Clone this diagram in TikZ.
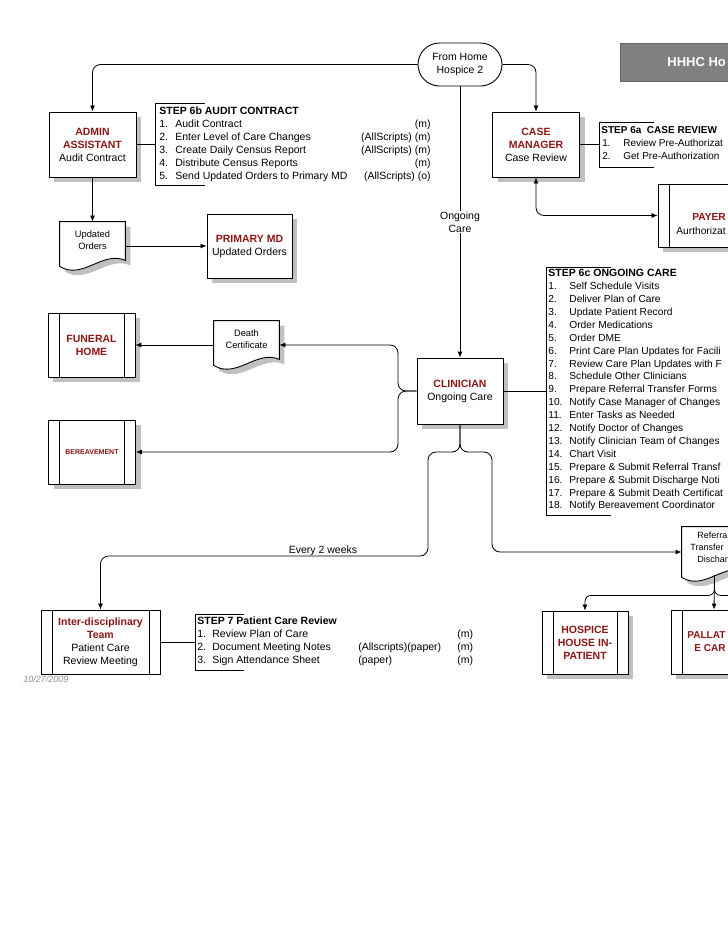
\documentclass[tikz,border=0pt]{standalone}
\usepackage{fontspec}
\setmainfont{Liberation Sans}
\usepackage{tikz}
\usetikzlibrary{arrows.meta,positioning,calc,shapes.misc,shadows,backgrounds}

\definecolor{hdred}{RGB}{140,22,22}
\definecolor{shadowgray}{RGB}{192,192,192}
\definecolor{titlegray}{RGB}{128,128,128}

\newcommand{\hd}[1]{{\bfseries\color{hdred}#1}}
% document symbol with wavy bottom, drawn round a node
\newcommand{\docshape}[1]{%
  \draw[boxshadow, fill=white, line width=0.9pt] (#1.north west) -- (#1.north east)
    -- ($(#1.south east)+(0,2)$)
    .. controls ($(#1.south west)!0.65!(#1.south east)+(0,-8)$) and ($(#1.south west)!0.35!(#1.south east)+(0,22)$) .. ($(#1.south west)+(0,8)$)
    -- cycle;}

\tikzset{
  boxshadow/.style={drop shadow={shadow xshift=5pt, shadow yshift=-5pt, fill=shadowgray, opacity=1}},
  boxframe/.style={draw, fill=white, line width=0.9pt, minimum width=87pt, minimum height=65pt,
    inner sep=1pt, align=center, font=\fontsize{10.5}{13}\selectfont},
  block/.style={boxframe, boxshadow},
  sidebars/.style={path picture={
    \draw[line width=0.9pt] ([xshift=11pt]path picture bounding box.north west) -- ([xshift=11pt]path picture bounding box.south west)
      ([xshift=-11pt]path picture bounding box.north east) -- ([xshift=-11pt]path picture bounding box.south east);}},
  extbox/.style={block, sidebars},
  docbox/.style={minimum width=65pt, minimum height=36pt, inner sep=1pt, align=center, font=\fontsize{9.3}{12}\selectfont},
  terminal/.style={rounded rectangle, draw, fill=white, line width=0.9pt, minimum width=86pt, minimum height=43pt,
    inner sep=1pt, align=center, font=\fontsize{10.5}{13}\selectfont},
  lbl/.style={inner sep=1pt, align=center, font=\fontsize{10.5}{13}\selectfont},
  edgetext/.style={anchor=west, inner sep=0pt, text height=8pt, text depth=2.5pt},
  annot/.style={minimum width=48pt, inner sep=0pt, anchor=north west},
  steptext/.style={anchor=west, inner sep=0pt, text height=8pt, text depth=2.5pt, font=\fontsize{10.5}{13}\selectfont},
  steptitle/.style={steptext, font=\fontsize{10.5}{13}\selectfont\bfseries},
  titlebox/.style={draw=black!60, fill=titlegray, minimum width=200pt, minimum height=38pt, inner sep=0pt}
}

\begin{document}
\begin{tikzpicture}[x=1pt, y=-1pt, >={Latex[length=6pt,width=5pt]}, line width=0.8pt]
  \useasboundingbox (0,0) rectangle (728,943);
  \clip (0,0) rectangle (728,943);

  % titulo
  \node[titlebox, anchor=north west] (title) at (620,43) {};
  \node[anchor=west, inner sep=0pt, text=white, font=\fontsize{13}{16}\selectfont\bfseries] (titletxt) at (667,62) {HHHC Ho};

  % inicio
  \node[terminal] (home) at (460,64.5) {From Home\\Hospice 2};

  % caixas
  \node[block] (admin) at (92.5,144.5) {\hd{ADMIN}\\\hd{ASSISTANT}\\Audit Contract};
  \node[block] (cm) at (536,144.5) {\hd{CASE}\\\hd{MANAGER}\\Case Review};
  \node[extbox, minimum width=104pt, minimum height=63pt] (payer) at (710,215.5) {};
  \node[edgetext, font=\fontsize{10.2}{13}\selectfont] (payer-t1) at (692,218) {\hd{PAYER}};
  \node[edgetext, font=\fontsize{10.2}{13}\selectfont] (payer-t2) at (676,232) {Aurthorizat};
  \node[block, minimum width=85pt, minimum height=64pt] (pmd) at (249.5,246) {\hd{PRIMARY MD}\\Updated Orders};
  \node[extbox, minimum height=64pt] (fun) at (91.5,345) {\hd{FUNERAL}\\\hd{HOME}};
  \node[extbox, minimum height=64pt, font=\fontsize{7}{8}\selectfont] (ber) at (92,452) {\hd{BEREAVEMENT}};
  \node[block, minimum width=86pt, minimum height=66pt] (clin) at (460,391) {\hd{CLINICIAN}\\Ongoing Care};
  \node[boxframe, sidebars, minimum width=119pt, minimum height=64pt] (idt) at (100.5,642)
    {\hd{Inter-disciplinary}\\\hd{Team}\\Patient Care\\Review Meeting};
  \node[extbox, minimum width=86pt, minimum height=63pt] (hosp) at (585,642.5) {\hd{HOSPICE}\\\hd{HOUSE IN-}\\\hd{PATIENT}};
  \node[extbox, minimum width=86pt, minimum height=64pt] (pall) at (714,642) {};
  \node[edgetext, font=\fontsize{10}{13}\selectfont] (pall-t1) at (687,636) {\hd{PALLAT}};
  \node[edgetext, font=\fontsize{10}{13}\selectfont] (pall-t2) at (694,649) {\hd{E CAR}};

  % documentos
  \node[docbox] (uo) at (92.5,240) {Updated\\Orders};
  \node[docbox] (dc) at (246.5,339) {Death\\Certificate};
  \node[docbox, minimum height=42pt] (ref) at (714.5,548) {};
  \begin{scope}[on background layer]
    \docshape{uo}
    \docshape{dc}
    \docshape{ref}
  \end{scope}
  \node[edgetext, font=\fontsize{9}{12}\selectfont] (ref-t1) at (697,536) {Referra};
  \node[edgetext, font=\fontsize{9}{12}\selectfont] (ref-t2) at (690,548) {Transfer};
  \node[edgetext, font=\fontsize{9}{12}\selectfont] (ref-t3) at (697,560) {Dischar};

  % colchetes das etapas
  \node[annot, minimum width=49pt, minimum height=82pt] (s6b) at (155,103) {};
  \node[annot, minimum width=54pt, minimum height=45pt] (s6a) at (599,122) {};
  \node[annot, minimum width=64pt, minimum height=248pt] (s6c) at (546,267) {};
  \node[annot, minimum width=48pt, minimum height=56pt] (s7) at (195,614) {};
  \foreach \s in {s6b,s6a,s6c,s7}
    \draw[line width=0.9pt] (\s.north east) -- (\s.north west) -- (\s.south west) -- (\s.south east);

  % etapa 6b
  \node[steptitle] (s6b-title) at (159,112) {STEP 6b AUDIT CONTRACT};
  \foreach \n/\txt/\sys in {1/Audit Contract/{(m)}, 2/Enter Level of Care Changes/{(AllScripts) (m)},
      3/Create Daily Census Report/{(AllScripts) (m)}, 4/Distribute Census Reports/{(m)},
      5/Send Updated Orders to Primary MD/{(AllScripts) (o)}} {
    \node[steptext] (s6b-n\n) at (159,112+13*\n) {\n.};
    \node[steptext] (s6b-t\n) at (175,112+13*\n) {\txt};
    \node[steptext, anchor=east] (s6b-s\n) at (431,112+13*\n) {\sys};
  }

  % etapa 6a
  \node[steptitle, font=\fontsize{10}{13}\selectfont\bfseries] (s6a-title) at (601,131) {STEP 6a\ \ CASE REVIEW};
  \foreach \n/\txt in {1/Review Pre-Authorizat, 2/Get Pre-Authorization} {
    \node[steptext, font=\fontsize{10}{13}\selectfont] (s6a-n\n) at (602,131+13*\n) {\n.};
    \node[steptext, font=\fontsize{10}{13}\selectfont] (s6a-t\n) at (623,131+13*\n) {\txt};
  }

  % etapa 6c
  \node[steptitle] (s6c-title) at (548,274) {STEP 6c ONGOING CARE};
  \foreach \n/\txt in {1/Self Schedule Visits, 2/Deliver Plan of Care, 3/Update Patient Record,
      4/Order Medications, 5/Order DME, 6/Print Care Plan Updates for Facili,
      7/Review Care Plan Updates with F, 8/Schedule Other Clinicians,
      9/Prepare Referral Transfer Forms, 10/Notify Case Manager of Changes,
      11/Enter Tasks as Needed, 12/Notify Doctor of Changes, 13/Notify Clinician Team of Changes,
      14/Chart Visit, 15/Prepare \& Submit Referral Transf,
      16/Prepare \& Submit Discharge Noti, 17/Prepare \& Submit Death Certificat,
      18/Notify Bereavement Coordinator} {
    \node[steptext, font=\fontsize{10.2}{13}\selectfont] (s6c-n\n) at (548,274+12.9*\n) {\n.};
    \node[steptext, font=\fontsize{10.2}{13}\selectfont] (s6c-t\n) at (569,274+12.9*\n) {\txt};
  }

  % etapa 7
  \node[steptitle] (s7-title) at (197,622) {STEP 7 Patient Care Review};
  \foreach \n/\txt/\sys in {1/Review Plan of Care/{}, 2/Document Meeting Notes/{(Allscripts)(paper)},
      3/Sign Attendance Sheet/{(paper)}} {
    \node[steptext] (s7-n\n) at (197,622+13*\n) {\n.};
    \node[steptext] (s7-t\n) at (212,622+13*\n) {\txt};
    \node[steptext] (s7-s\n) at (358,622+13*\n) {\sys};
    \node[steptext] (s7-m\n) at (457,622+13*\n) {(m)};
  }

  % data
  \node[anchor=west, inner sep=0pt, text=black!45, font=\fontsize{9}{11}\selectfont\itshape] (date) at (23,679) {10/27/2009};

  % ligacoes
  \draw[->, rounded corners=8pt] (home.west) -| (admin.north);
  \draw[->, rounded corners=8pt] (home.east) -| (cm.north);
  \draw[->] (home.south) -- node[lbl, fill=white] (ongoing) {Ongoing\\Care} (clin.north);
  \draw[<->, rounded corners=8pt] (cm.south) |- (payer.west);
  \draw (admin.east) -- (admin.east -| s6b.west);
  \draw (cm.east) -- (cm.east -| s6a.west);
  \draw (clin.east) -- (clin.east -| s6c.west);
  \draw (idt.east) -- (idt.east -| s7.west);
  \draw[->] (admin.south) -- (uo.north);
  \draw[->] (uo.east |- pmd.west) -- (pmd.west);
  \draw[->, rounded corners=8pt] (clin.west) -| (398,345) -- (dc.east |- 0,345);
  \draw[->] (dc.west |- 0,345) -- (fun.east);
  \draw[->, rounded corners=8pt] (clin.west) -| (398,452) -- (ber.east);
  \draw[->, rounded corners=8pt] (clin.south) -- (460,452) -| (428,556) -| (idt.north);
  \node[lbl, anchor=base] (every) at (323,553) {Every 2 weeks};
  \draw[->, rounded corners=8pt] (clin.south) -- (460,452) -| (492,552) -- (ref.west |- 0,552);
  \coordinate (refout) at ($(ref.south)+(0,6)$);
  \draw[->] (refout) -- (pall.north);
  \draw[->, rounded corners=6pt] (refout) -- ++(0,20) -| (hosp.north);
  \draw[rounded corners=6pt] (refout) -- ++(0,20) -- ++(40,0);
\end{tikzpicture}
\end{document}
